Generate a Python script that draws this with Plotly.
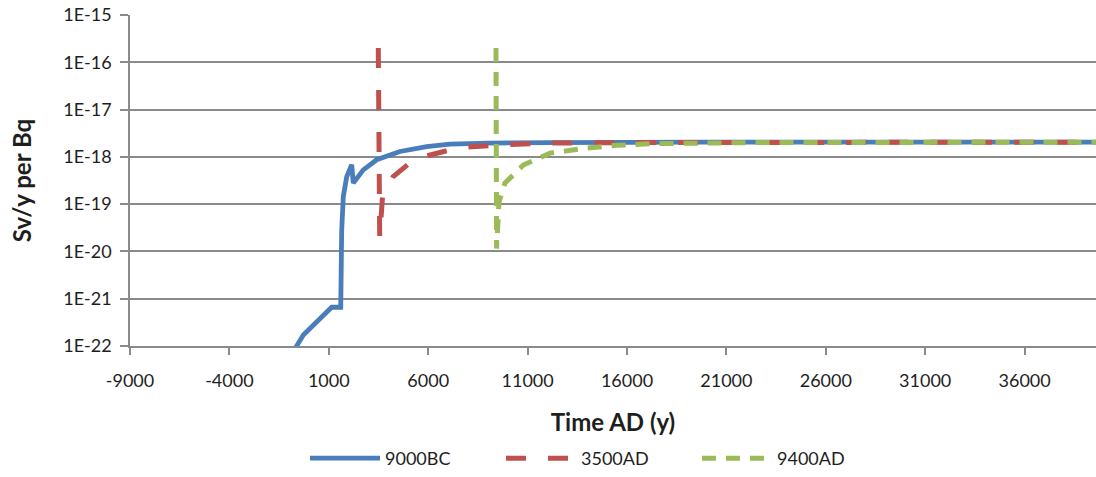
import plotly.graph_objects as go

# ---- data ----
years_9000bc = [-1200, -615, -283, 391, 1146, 1600, 1610, 1649, 1730, 1901, 2152, 2232,
                2735, 3409, 4581, 5924, 7096, 9000, 12126, 16000, 20000, 40000]
dose_9000bc = [5e-23, 1e-22, 1.7e-22, 3.3e-22, 6.6e-22, 6.6e-22, 3e-21, 2.8e-20, 1.45e-19,
               3.8e-19, 6.8e-19, 2.8e-19, 5.3e-19, 8.7e-19, 1.3e-18, 1.65e-18, 1.85e-18,
               1.95e-18, 2.0e-18, 2.03e-18, 2.05e-18, 2.05e-18]

years_3500ad = [3490, 3560, 3700, 4229, 5084, 5939, 7096, 7951, 9611, 12000, 16000, 40000]
dose_3500ad = [2.0e-16, 1.95e-20, 1.4e-19, 3.8e-19, 7.5e-19, 1.05e-18, 1.4e-18, 1.6e-18,
               1.8e-18, 1.95e-18, 2.0e-18, 2.05e-18]

years_9400ad = [9410, 9440, 9560, 9862, 10785, 12126, 13803, 15480, 17156, 22000, 40000]
dose_9400ad = [2.0e-16, 1.15e-20, 1.1e-19, 2.8e-19, 6.7e-19, 1.2e-18, 1.5e-18, 1.75e-18,
               1.9e-18, 2.0e-18, 2.05e-18]

series_names = ["9000BC", "3500AD", "9400AD"]
x_tickvals = [-9000, -4000, 1000, 6000, 11000, 16000, 21000, 26000, 31000, 36000]
x_ticktext = ["-9000", "-4000", "1000", "6000", "11000", "16000", "21000", "26000", "31000", "36000"]
y_tickvals = [1e-22, 1e-21, 1e-20, 1e-19, 1e-18, 1e-17, 1e-16, 1e-15]
y_ticktext = ["1E-22", "1E-21", "1E-20", "1E-19", "1E-18", "1E-17", "1E-16", "1E-15"]

FONT = "Lato"
GRID = "#8a8a8a"
TXT = "#1e1e1e"

fig = go.Figure()
fig.add_trace(go.Scatter(x=years_9000bc, y=dose_9000bc, mode="lines", name=series_names[0],
                         line=dict(color="#4a7ebb", width=4.8)))
fig.add_trace(go.Scatter(x=years_3500ad, y=dose_3500ad, mode="lines", name=series_names[1],
                         line=dict(color="#c0504d", width=5, dash="20px,22px")))
fig.add_trace(go.Scatter(x=years_9400ad, y=dose_9400ad, mode="lines", name=series_names[2],
                         line=dict(color="#9bbb59", width=5, dash="14px,10px")))

fig.update_layout(
    width=1096, height=477,
    margin=dict(l=130, r=0, t=15, b=131),
    paper_bgcolor="white", plot_bgcolor="white",
    font=dict(family=FONT, size=18, color=TXT),
    showlegend=True,
    legend=dict(orientation="h", xref="container", yref="container",
                x=305 / 1096, xanchor="left", y=0.0, yanchor="bottom",
                font=dict(family=FONT, size=18, color=TXT), itemwidth=70,
                entrywidth=111, entrywidthmode="pixels", traceorder="normal"),
)
fig.update_xaxes(
    range=[-9000, 39592], tickvals=x_tickvals, ticktext=x_ticktext, automargin=False,
    showgrid=False, zeroline=False,
    showline=True, linecolor=GRID, linewidth=1.5,
    ticks="outside", ticklen=7, tickcolor=GRID, tickwidth=1.5, ticklabelstandoff=11,
    tickfont=dict(family=FONT, size=18, color=TXT),
    title=dict(text="<b>Time AD (y)</b>", font=dict(family=FONT, size=24, color=TXT),
               standoff=24),
)
fig.update_yaxes(
    type="log", range=[-22, -15], tickvals=y_tickvals, ticktext=y_ticktext, automargin=False,
    showgrid=True, gridcolor=GRID, gridwidth=1.5, zeroline=False,
    showline=True, linecolor=GRID, linewidth=1.5,
    ticks="outside", ticklen=8, tickcolor=GRID, tickwidth=1.5, ticklabelstandoff=5,
    tickfont=dict(family=FONT, size=18, color=TXT),
    title=dict(text="<b>Sv/y per Bq</b>", font=dict(family=FONT, size=24, color=TXT),
               standoff=25),
)

fig.write_html("out.html", config={"displayModeBar": False},
               post_script="document.body.style.margin='0px';document.body.style.overflow='hidden';")
